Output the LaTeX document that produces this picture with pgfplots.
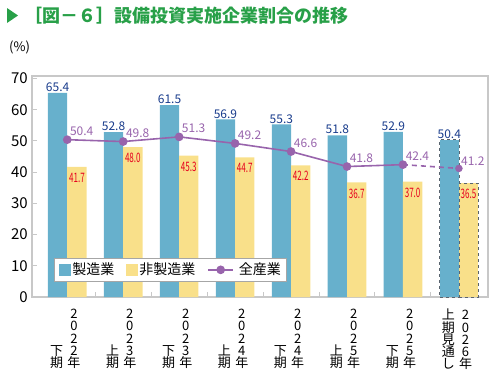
\documentclass[border=0pt]{standalone}
\usepackage{fontspec}
\setmainfont{Noto Sans CJK JP}
\usepackage{graphicx}
\usepackage{pgfplots}
\pgfplotsset{compat=1.18}
\definecolor{cblue}{RGB}{103,176,204}
\definecolor{cyel}{RGB}{249,224,138}
\definecolor{cpur}{RGB}{152,100,172}
\definecolor{cnavy}{RGB}{25,60,140}
\definecolor{cred}{RGB}{230,0,30}
\definecolor{cgreen}{RGB}{40,160,72}
\definecolor{cframe}{RGB}{200,200,200}
\definecolor{cdash}{RGB}{90,100,110}
\newcommand{\vc}[1]{\hbox to 13pt{\hss#1\hss}}
\newcommand{\vcol}[1]{\vbox{\baselineskip=12.2pt\lineskiplimit=-20pt\lineskip=0pt #1}}
\newcommand{\tlab}[2]{\vcol{#1}\hspace{4.3pt}\vcol{#2}}
\begin{document}
\begin{tikzpicture}
\path[use as bounding box] (0pt,0pt) rectangle (500pt,-376pt);
\fill[cgreen] (7pt,-8pt) -- (18pt,-15.5pt) -- (7pt,-23pt) -- cycle;
\node[anchor=west, inner sep=0, text=cgreen, font=\fontsize{18}{18}\selectfont\bfseries] at (24pt,-16pt) {［図－６］設備投資実施企業割合の推移};
\node[anchor=west, inner sep=0, font=\fontsize{13}{13}\selectfont] at (9pt,-47pt) {(\%)};
\begin{axis}[
  scale only axis, width=456pt, height=221pt,
  at={(32pt,-297pt)}, anchor=south west,
  xmin=-0.63, xmax=7.52, ymin=0, ymax=70.8,
  /pgf/number format/assume math mode=true,
  axis line style={draw=cframe, line width=2pt},
  ytick={0,10,...,70},
  xtick={0,...,7},
  xticklabels={
    {\tlab{\vc{下}\vc{期}}{\vc{2}\vc{0}\vc{2}\vc{2}\vc{年}}},
    {\tlab{\vc{上}\vc{期}}{\vc{2}\vc{0}\vc{2}\vc{3}\vc{年}}},
    {\tlab{\vc{下}\vc{期}}{\vc{2}\vc{0}\vc{2}\vc{3}\vc{年}}},
    {\tlab{\vc{上}\vc{期}}{\vc{2}\vc{0}\vc{2}\vc{4}\vc{年}}},
    {\tlab{\vc{下}\vc{期}}{\vc{2}\vc{0}\vc{2}\vc{4}\vc{年}}},
    {\tlab{\vc{上}\vc{期}}{\vc{2}\vc{0}\vc{2}\vc{5}\vc{年}}},
    {\tlab{\vc{下}\vc{期}}{\vc{2}\vc{0}\vc{2}\vc{5}\vc{年}}},
    {\tlab{\vc{上}\vc{期}\vc{見}\vc{通}\vc{し}}{\vc{2}\vc{0}\vc{2}\vc{6}\vc{年}}}},
  xticklabel style={anchor=north, inner sep=0pt, yshift=-12pt, xshift=-2pt, font=\fontsize{13}{13}\selectfont},
  yticklabel style={inner sep=0pt, xshift=-4pt, font=\fontsize{15}{15}\selectfont},
  tick align=inside,
  ytick pos=left, xtick pos=bottom,
  major tick length=5pt,
  tick style={draw=cframe, line width=1pt},
  xtick style={draw=none},
  minor xtick={0.5,1.5,...,6.5},
  minor tick length=5pt,
  minor x tick style={draw=cframe, line width=1pt},
  legend style={at={(0.048,0.068)}, anchor=south west, draw=gray!70, line width=1pt,
    font=\fontsize{14}{14}\selectfont, inner xsep=5pt, inner ysep=4pt,
    nodes={inner xsep=1pt, inner ysep=1pt},
    /tikz/every even column/.append style={column sep=11pt}},
  legend columns=-1,
  blab/.style={nodes near coords={\pgfmathprintnumber[fixed,fixed zerofill,precision=1]{\pgfplotspointmeta}},
     every node near coord/.append style={anchor=south, inner sep=1pt, xshift=-9.65pt, text=cnavy, font=\fontsize{12}{12}\selectfont}},
  ylab/.style={nodes near coords={\scalebox{0.62}[1]{\pgfmathprintnumber[fixed,fixed zerofill,precision=1]{\pgfplotspointmeta}}},
     every node near coord/.append style={anchor=north, inner sep=1pt, xshift=9.65pt, yshift=-5pt, text=cred, font=\fontsize{13}{13}\selectfont}},
  plab/.style={nodes near coords={\pgfmathprintnumber[fixed,fixed zerofill,precision=1]{\pgfplotspointmeta}},
     every node near coord/.append style={anchor=south west, inner sep=0pt, xshift=2pt, yshift=3pt, text=cpur, font=\fontsize{12}{12}\selectfont}},
]
\addplot[ybar, bar width=19.3pt, bar shift=-9.65pt, fill=cblue, draw=none, blab,
  legend image code/.code={\fill[cblue] (0pt,-6pt) rectangle (12pt,6pt);}]
  coordinates {(0,65.4) (1,52.8) (2,61.5) (3,56.9) (4,55.3) (5,51.8) (6,52.9)};
\addlegendentry{製造業}
\addplot[ybar, bar width=19.3pt, bar shift=9.65pt, fill=cyel, draw=none, ylab,
  legend image code/.code={\fill[cyel] (0pt,-6pt) rectangle (12pt,6pt);}]
  coordinates {(0,41.7) (1,48.0) (2,45.3) (3,44.7) (4,42.2) (5,36.7) (6,37.0)};
\addlegendentry{非製造業}
\addplot[ybar, bar width=19.3pt, bar shift=-9.65pt, fill=cblue, draw=cdash, dashed, line width=0.8pt, blab, forget plot]
  coordinates {(7,50.4)};
\addplot[ybar, bar width=19.3pt, bar shift=9.65pt, fill=cyel, draw=cdash, dashed, line width=0.8pt, ylab, forget plot]
  coordinates {(7,36.5)};
\addplot[cpur, line width=1.6pt, dash pattern=on 5pt off 4pt, forget plot]
  coordinates {(6,42.4) (7,41.2)};
\addplot[cpur, line width=1.6pt, mark=*, mark size=3.5pt, mark options={solid, fill=cpur, draw=cpur}, plab,
  legend image code/.code={\draw[cpur, line width=1.6pt] (0pt,0pt) -- (25pt,0pt); \fill[cpur] (12.5pt,0pt) circle (3.5pt); \path (29pt,0pt);}]
  coordinates {(0,50.4) (1,49.8) (2,51.3) (3,49.2) (4,46.6) (5,41.8) (6,42.4)};
\addlegendentry{全産業}
\addplot[cpur, only marks, mark=*, mark size=3.5pt, mark options={solid, fill=cpur, draw=cpur}, plab, forget plot]
  coordinates {(7,41.2)};
\end{axis}
\end{tikzpicture}
\end{document}
